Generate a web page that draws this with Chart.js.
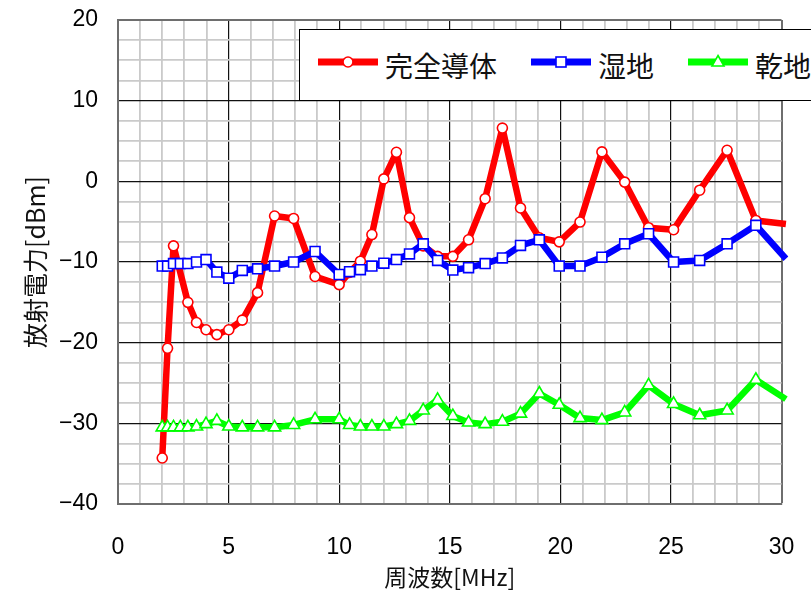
<!DOCTYPE html>
<html lang="ja">
<head>
<meta charset="utf-8">
<title>放射電力</title>
<script src="https://cdn.jsdelivr.net/npm/chart.js@4/dist/chart.umd.min.js"></script>
<style>
  html, body { margin: 0; padding: 0; background: #fff; overflow: hidden; }
  #wrap { position: relative; width: 811px; height: 591px; overflow: hidden; }
  #legend {
    position: absolute; left: 299px; top: 29px; width: 540px; height: 70px;
    background: #fff; border: 1.5px solid #000; box-sizing: content-box;
    display: flex; align-items: center; padding-left: 18px;
    font-family: "Noto Sans CJK JP", "Noto Sans", sans-serif; font-size: 28px; color: #111;
  }
  .item { display: flex; align-items: center; margin-right: 34px; }
  .item svg { display: block; margin-right: 7px; margin-top: -6px; }
  .item span { line-height: 1; white-space: nowrap; }
</style>
</head>
<body>
<div id="wrap">
  <canvas id="c" width="811" height="591"></canvas>
  <div id="legend"></div>
</div>
<script>
// Measurement frequencies [MHz] (log-spaced sweep)
const freqMHz = [2.0, 2.24, 2.51, 2.82, 3.16, 3.55, 3.98, 4.47, 5.01, 5.62, 6.31, 7.08, 7.94, 8.91,
  10.0, 10.47, 10.96, 11.48, 12.02, 12.59, 13.18, 13.8, 14.45, 15.14, 15.85, 16.6, 17.38, 18.2,
  19.05, 19.95, 20.89, 21.88, 22.91, 23.99, 25.12, 26.3, 27.54, 28.84, 30.2];

// Radiated power [dBm]
const conductor = [-34.3, -20.7, -8.0, null, -15.0, -17.5, -18.4, -19.0, -18.4, -17.2, -13.8, -4.3, -4.6, -11.8,
  -12.8, -11.3, -9.9, -6.6, 0.3, 3.6, -4.5, -8.0, -9.3, -9.3, -7.25, -2.15, 6.6, -3.3,
  -7.0, -7.5, -5.05, 3.65, -0.1, -5.75, -6.0, -1.1, 3.85, -4.85, -5.3];
const wetland = [-10.5, -10.5, -10.2, -10.2, -10.2, -10.0, -9.7, -11.25, -12.0, -11.05, -10.85, -10.5, -10.0, -8.7,
  -11.55, -11.2, -10.95, -10.5, -10.15, -9.7, -9.0, -7.75, -9.8, -11.0, -10.7, -10.2, -9.5, -7.95,
  -7.25, -10.5, -10.5, -9.4, -7.75, -6.5, -10.0, -9.8, -7.75, -5.45, -9.6];
const dryland = [-30.5, -30.5, -30.5, -30.5, -30.5, -30.4, -30.1, -29.7, -30.4, -30.5, -30.5, -30.5, -30.2, -29.5,
  -29.5, -30.2, -30.4, -30.4, -30.4, -30.1, -29.7, -28.4, -27.1, -29.1, -29.9, -30.1, -29.8, -28.8,
  -26.3, -27.7, -29.35, -29.6, -28.65, -25.3, -27.6, -29.0, -28.4, -24.6, -27.0];

const seriesNames = ['完全導体', '湿地', '乾地'];
const xTickValues = [0, 5, 10, 15, 20, 25, 30];
const yTickValues = [-40, -30, -20, -10, 0, 10, 20];

const X_MIN = 0, X_MAX = 30, Y_MIN = -40, Y_MAX = 20;

const toPoints = (vals) => freqMHz.map((f, i) => ({ x: f, y: vals[i] }));

const styles = [
  { color: '#ff0000', shape: 'circle', radius: 5, order: 3 },
  { color: '#0000ff', shape: 'rect', radius: 7, order: 2 },
  { color: '#00ff00', shape: 'triangle', radius: 7, order: 1 }
];

const seriesValues = [conductor, wetland, dryland];

const datasets = seriesValues.map((vals, i) => {
  const s = styles[i];
  return {
    label: seriesNames[i],
    data: toPoints(vals),
    borderColor: s.color,
    backgroundColor: s.color,
    borderWidth: 6.5,
    borderJoinStyle: 'round',
    borderCapStyle: 'butt',
    tension: 0,
    spanGaps: true,
    pointStyle: s.shape,
    pointRadius: (c) => (c.raw && c.raw.x > X_MAX ? 0 : s.radius),
    pointBackgroundColor: '#ffffff',
    pointBorderColor: s.color,
    pointBorderWidth: 1.6,
    order: s.order,
    clip: { left: 0, top: 0, right: 7, bottom: 0 }
  };
});

const MAJOR = '#111111', MINOR = '#cacaca', EDGE = '#6e6e6e';
const tickFont = { family: "'Liberation Sans', Arial, sans-serif", size: 23 };
const minus = (v) => (v < 0 ? '\u2212' + Math.abs(v) : String(v));

new Chart(document.getElementById('c'), {
  type: 'line',
  data: { datasets },
  options: {
    responsive: false,
    animation: false,
    events: [],
    layout: { padding: { top: 20, right: 29.5, left: 0, bottom: 0 } },
    plugins: { legend: { display: false }, tooltip: { enabled: false } },
    scales: {
      x: {
        type: 'linear', min: X_MIN, max: X_MAX,
        ticks: {
          stepSize: 1, autoSkip: false, maxRotation: 0, padding: 0,
          color: '#000', font: tickFont,
          callback: (v) => (xTickValues.includes(v) ? minus(v) : '')
        },
        grid: {
          drawTicks: true, tickLength: 30, tickColor: 'rgba(0,0,0,0)',
          color: (c) => (c.tick.value === X_MAX ? EDGE : (c.tick.value % 5 === 0 ? MAJOR : MINOR)),
          lineWidth: (c) => (c.tick.value === X_MAX ? 2 : (c.tick.value % 5 === 0 ? 1.2 : 1.8))
        },
        border: { display: true, color: EDGE, width: 2 },
        title: {
          display: true, text: '周波数[MHz]', color: '#111',
          font: { family: "'Noto Sans CJK JP', sans-serif", size: 23 },
          padding: { top: 0, bottom: 0 }
        },
        afterFit: (s) => { s.height = 87; }
      },
      y: {
        type: 'linear', min: Y_MIN, max: Y_MAX,
        ticks: {
          stepSize: 2.5, autoSkip: false, padding: 0,
          color: '#000', font: tickFont,
          callback: (v) => (yTickValues.includes(v) ? minus(v) : '')
        },
        grid: {
          drawTicks: true, tickLength: 20, tickColor: 'rgba(0,0,0,0)',
          color: (c) => (c.tick.value === Y_MAX ? EDGE : (c.tick.value % 10 === 0 ? MAJOR : MINOR)),
          lineWidth: (c) => (c.tick.value === Y_MAX ? 2 : (c.tick.value % 10 === 0 ? 1.2 : 1.8))
        },
        border: { display: true, color: EDGE, width: 2 },
        title: {
          display: true, text: '放射電力[dBm]', color: '#111',
          font: { family: "'Noto Sans CJK JP', sans-serif", size: 25 },
          padding: { top: 20, bottom: 0 }
        },
        afterFit: (s) => { s.width = 118; }
      }
    }
  }
});

// Legend box drawn over the plot, built from the dataset styles
const legend = document.getElementById('legend');
const NS = 'http://www.w3.org/2000/svg';
styles.forEach((s, i) => {
  const item = document.createElement('div');
  item.className = 'item';
  const svg = document.createElementNS(NS, 'svg');
  svg.setAttribute('width', '60');
  svg.setAttribute('height', '20');
  const line = document.createElementNS(NS, 'line');
  line.setAttribute('x1', '0'); line.setAttribute('x2', '60');
  line.setAttribute('y1', '10'); line.setAttribute('y2', '10');
  line.setAttribute('stroke', s.color); line.setAttribute('stroke-width', '7');
  svg.appendChild(line);
  let mk;
  if (s.shape === 'circle') {
    mk = document.createElementNS(NS, 'circle');
    mk.setAttribute('cx', '30'); mk.setAttribute('cy', '10'); mk.setAttribute('r', '5');
  } else if (s.shape === 'rect') {
    mk = document.createElementNS(NS, 'rect');
    mk.setAttribute('x', '25'); mk.setAttribute('y', '5'); mk.setAttribute('width', '10'); mk.setAttribute('height', '10');
  } else {
    mk = document.createElementNS(NS, 'polygon');
    mk.setAttribute('points', '30,3.5 36,14 24,14');
  }
  mk.setAttribute('fill', '#fff'); mk.setAttribute('stroke', s.color); mk.setAttribute('stroke-width', '1.6');
  svg.appendChild(mk);
  const txt = document.createElement('span');
  txt.textContent = seriesNames[i];
  item.appendChild(svg);
  item.appendChild(txt);
  legend.appendChild(item);
});
</script>
</body>
</html>
